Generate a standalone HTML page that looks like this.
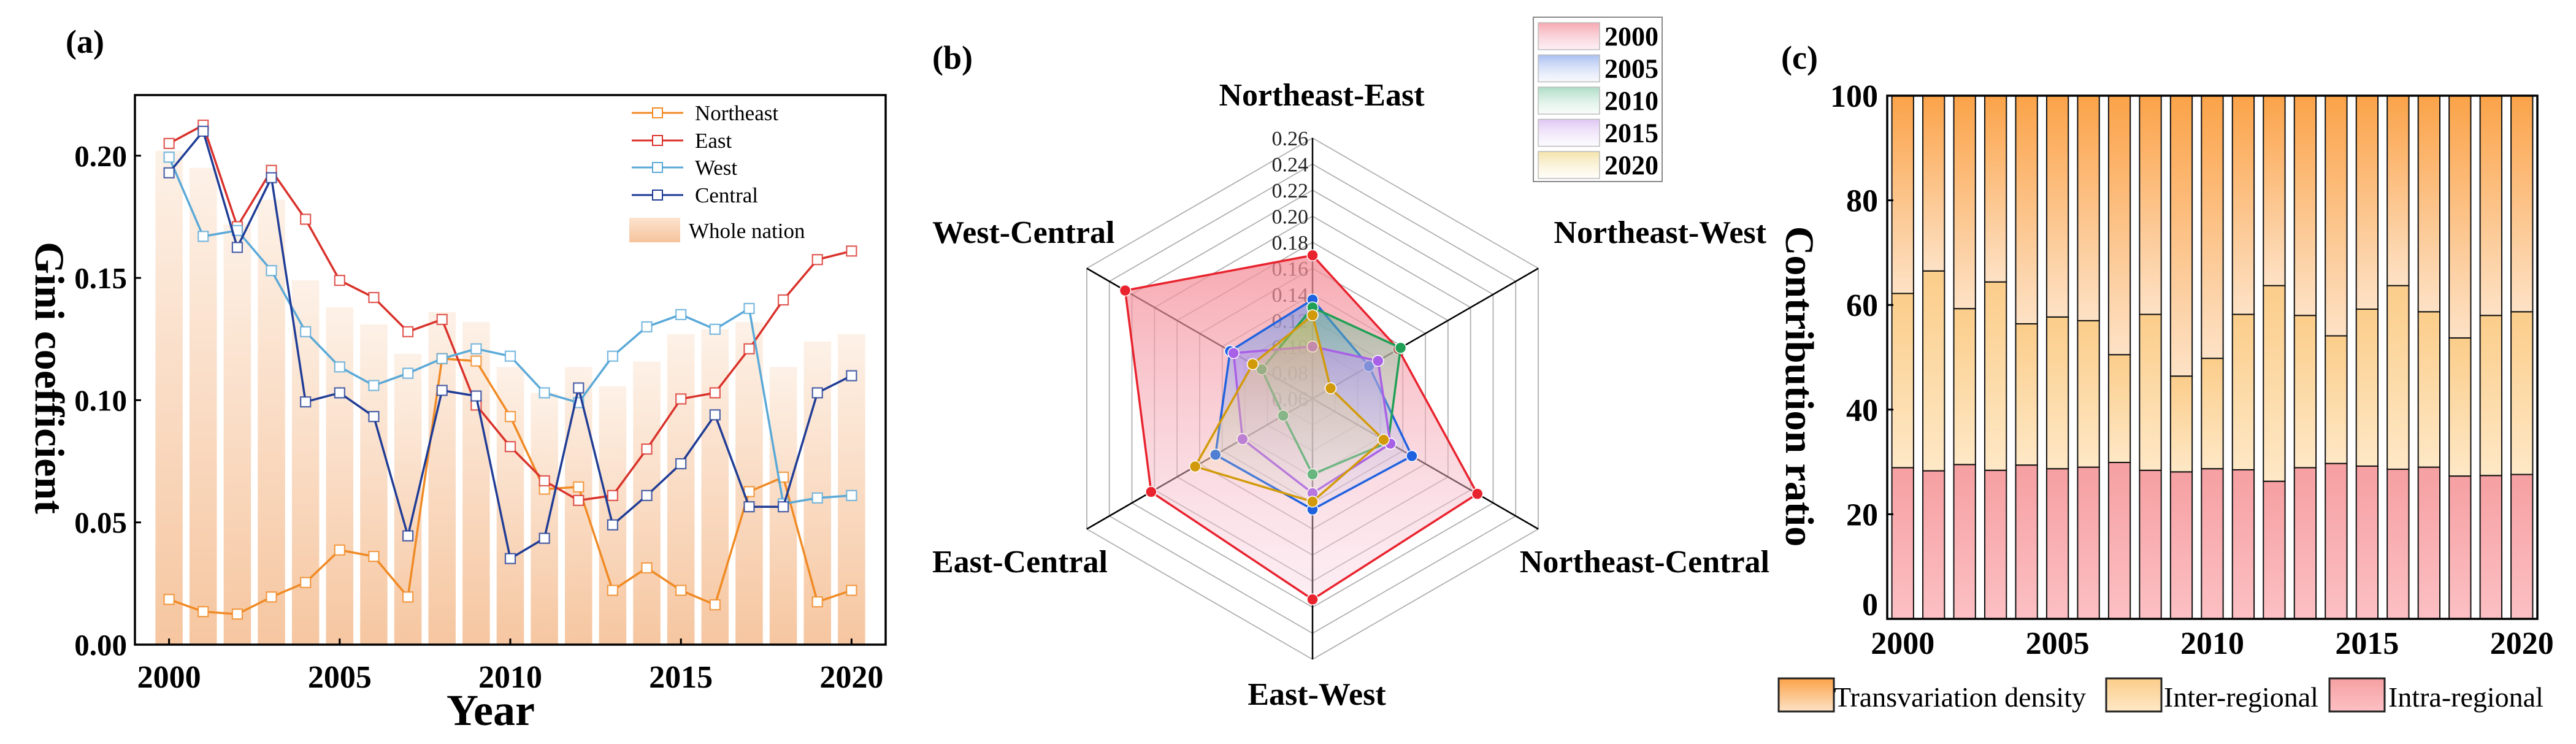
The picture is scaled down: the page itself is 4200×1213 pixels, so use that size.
<!DOCTYPE html>
<html><head><meta charset="utf-8"><style>
html,body{margin:0;padding:0;background:#fff}
svg{display:block}
text{font-family:"Liberation Serif","DejaVu Serif",serif}
</style></head><body>
<svg id="fig" xmlns="http://www.w3.org/2000/svg" width="4200" height="1213" viewBox="0 0 4200 1213">
<defs>
<linearGradient id="gWhole" x1="0" y1="0" x2="0" y2="1"><stop offset="0" stop-color="#fdf1e7"/><stop offset="1" stop-color="#f6c6a0"/></linearGradient>
<linearGradient id="gWholeLeg" x1="0" y1="0" x2="0" y2="1"><stop offset="0" stop-color="#fce3cf"/><stop offset="1" stop-color="#f6c39c"/></linearGradient>
<linearGradient id="gIntra" x1="0" y1="0" x2="0" y2="1"><stop offset="0" stop-color="#f6a0a2"/><stop offset="1" stop-color="#fcc0c4"/></linearGradient>
<linearGradient id="gInter" x1="0" y1="0" x2="0" y2="1"><stop offset="0" stop-color="#fbcd8a"/><stop offset="1" stop-color="#fee8c6"/></linearGradient>
<linearGradient id="gTrans" x1="0" y1="0" x2="0" y2="1"><stop offset="0" stop-color="#fba349"/><stop offset="1" stop-color="#fde2c6"/></linearGradient>
<linearGradient id="r0" x1="0" y1="0" x2="0" y2="1"><stop offset="0" stop-color="#f48c96" stop-opacity="0.75"/><stop offset="1" stop-color="#f7d0e0" stop-opacity="0.35"/></linearGradient>
<linearGradient id="r1" x1="0" y1="0" x2="0" y2="1"><stop offset="0" stop-color="#6f94e8" stop-opacity="0.6"/><stop offset="1" stop-color="#c8d4f4" stop-opacity="0.15"/></linearGradient>
<linearGradient id="r2" x1="0" y1="0" x2="0" y2="1"><stop offset="0" stop-color="#5ab88a" stop-opacity="0.5"/><stop offset="1" stop-color="#d0eedd" stop-opacity="0.15"/></linearGradient>
<linearGradient id="r3" x1="0" y1="0" x2="0" y2="1"><stop offset="0" stop-color="#c08ee8" stop-opacity="0.5"/><stop offset="1" stop-color="#eadcf8" stop-opacity="0.15"/></linearGradient>
<linearGradient id="r4" x1="0" y1="0" x2="0" y2="1"><stop offset="0" stop-color="#e8c040" stop-opacity="0.45"/><stop offset="1" stop-color="#fbefc8" stop-opacity="0.15"/></linearGradient>
</defs>
<g id="pa"></g>
<g id="pb"></g>
<g id="pc"></g>
</svg>
<script>
// ---------- Panel (a) data ----------
const yearsA = [2000,2001,2002,2003,2004,2005,2006,2007,2008,2009,2010,2011,2012,2013,2014,2015,2016,2017,2018,2019,2020];
const northeast = [0.0185,0.0135,0.0125,0.0195,0.0254,0.0387,0.0361,0.0195,0.117,0.116,0.0933,0.0636,0.0645,0.0222,0.0314,0.0222,0.0163,0.0626,0.0685,0.0175,0.0222];
const east = [0.205,0.2125,0.171,0.194,0.174,0.149,0.142,0.128,0.133,0.098,0.081,0.067,0.059,0.061,0.080,0.1005,0.103,0.121,0.141,0.1575,0.161];
const west = [0.1994,0.167,0.1694,0.153,0.128,0.1136,0.106,0.111,0.117,0.121,0.118,0.103,0.099,0.118,0.130,0.135,0.129,0.1375,0.0576,0.060,0.061];
const central = [0.193,0.210,0.1625,0.191,0.0993,0.103,0.0933,0.0445,0.104,0.1017,0.0352,0.0435,0.105,0.049,0.061,0.074,0.094,0.0564,0.0564,0.103,0.110];
const wholeNation = [0.202,0.195,0.172,0.182,0.149,0.138,0.131,0.119,0.136,0.132,0.1136,0.103,0.1136,0.1057,0.1158,0.127,0.129,0.132,0.1136,0.124,0.127];
const yTicksA = [0,0.05,0.10,0.15,0.20];
const yTickLabelsA = ["0.00","0.05","0.10","0.15","0.20"];
const xTicksA = [2000,2005,2010,2015,2020];

// ---------- Panel (b) data ----------
const radarAxes = ["Northeast-East","Northeast-West","Northeast-Central","East-West","East-Central","West-Central"];
const radarYears = ["2000","2005","2010","2015","2020"];
const r2000 = [0.170,0.136,0.206,0.214,0.203,0.226];
const r2005 = [0.136,0.110,0.148,0.145,0.146,0.133];
const r2010 = [0.130,0.138,0.127,0.118,0.086,0.105];
const r2015 = [0.100,0.118,0.129,0.1325,0.122,0.130];
const r2020 = [0.124,0.076,0.123,0.139,0.164,0.113];
const radarTicks = [0.06,0.08,0.10,0.12,0.14,0.16,0.18,0.20,0.22,0.24,0.26];
const radarTickLabels = ["0.06","0.08","0.10","0.12","0.14","0.16","0.18","0.20","0.22","0.24","0.26"];

// ---------- Panel (c) data ----------
const yearsC = [2000,2001,2002,2003,2004,2005,2006,2007,2008,2009,2010,2011,2012,2013,2014,2015,2016,2017,2018,2019,2020];
const intra = [28.9,28.3,29.5,28.4,29.4,28.7,29.0,29.9,28.4,28.1,28.7,28.5,26.3,28.9,29.7,29.2,28.6,29.0,27.3,27.4,27.6];
const inter = [33.3,38.2,29.8,36.0,27.0,29.0,28.0,20.6,29.8,18.3,21.1,29.7,37.4,29.1,24.4,30.0,35.1,29.7,26.4,30.6,31.1];
const trans = [37.8,33.5,40.7,35.6,43.6,42.3,43.0,49.5,41.8,53.6,50.2,41.8,36.3,42.0,45.9,40.8,36.3,41.3,46.3,42.0,41.3];
const yTicksC = [0,20,40,60,80,100];
const xTicksC = [2000,2005,2010,2015,2020];

const NS = "http://www.w3.org/2000/svg";
function mk(parent, tag, attrs, txt){
  const e = document.createElementNS(NS, tag);
  for (const k in attrs) e.setAttribute(k, attrs[k]);
  if (txt !== undefined) e.textContent = txt;
  parent.appendChild(e);
  return e;
}

// ================= Panel A =================
(function(){
  const g = document.getElementById('pa');
  const L=220, R=1444, T=155, B=1051;
  const xMin=1999, xMax=2021, yMin=0, yMax=0.2248;
  const X = v => L + (v-xMin)/(xMax-xMin)*(R-L);
  const Y = v => B - (v-yMin)/(yMax-yMin)*(B-T);
  const t = mk(g,'text',{x:107,y:86,'font-size':54,'font-weight':'bold'},'(a)');
   
  const bw = 0.8*(X(1)-X(0));
  wholeNation.forEach((v,i)=>{
    const r = mk(g,'rect',{x:X(yearsA[i])-bw/2,y:Y(v),width:bw,height:Y(0)-Y(v),fill:'url(#gWhole)'});
     
  });
  const series = [[northeast,'#f08a24','northeast'],[east,'#d9322b','east'],[west,'#5aa9d8','west'],[central,'#1f3c96','central']];
  series.forEach(([arr,col,nm])=>{
    const pts = arr.map((v,i)=>X(yearsA[i])+','+Y(v)).join(' ');
    const pl = mk(g,'polyline',{points:pts,fill:'none',stroke:col,'stroke-width':3.5});
     
    arr.forEach((v,i)=>{
      const m = mk(g,'rect',{x:X(yearsA[i])-8,y:Y(v)-8,width:16,height:16,fill:'#fff',stroke:col,'stroke-width':2.2,'stroke-opacity':0.8});
       
    });
  });
  const fr = mk(g,'rect',{x:L,y:T,width:R-L,height:B-T,fill:'none',stroke:'#000','stroke-width':3.5});
   
  yTicksA.forEach((v,i)=>{
    const tk = mk(g,'line',{x1:L,x2:L+10,y1:Y(v),y2:Y(v),stroke:'#000','stroke-width':3});
     
    const lb = mk(g,'text',{x:207,y:Y(v)+17,'font-size':49,'font-weight':'bold','text-anchor':'end'},yTickLabelsA[i]);
     
  });
  xTicksA.forEach(v=>{
    const tk = mk(g,'line',{x1:X(v),x2:X(v),y1:B,y2:B-10,stroke:'#000','stroke-width':3});
     
    const lb = mk(g,'text',{x:X(v),y:1121,'font-size':52,'font-weight':'bold','text-anchor':'middle'},String(v));
     
  });
  const xt = mk(g,'text',{x:800,y:1182,'font-size':72,'font-weight':'bold','text-anchor':'middle'},'Year');
   
  const yt = mk(g,'text',{x:0,y:0,'font-size':68,'font-weight':'bold','text-anchor':'middle',transform:'translate(58,616) rotate(90)'},'Gini coefficient');
   
  // legend
  const legNames = ['Northeast','East','West','Central'];
  const legY = [184,229,273,318];
  series.forEach(([arr,col,nm],i)=>{
    const lg = mk(g,'g',{});
     
    mk(lg,'line',{x1:1030,x2:1114,y1:legY[i],y2:legY[i],stroke:col,'stroke-width':3});
    mk(lg,'rect',{x:1064,y:legY[i]-8,width:16,height:16,fill:'#fff',stroke:col,'stroke-width':2});
    mk(lg,'text',{x:1133,y:legY[i]+12,'font-size':35},legNames[i]);
  });
  const lw = mk(g,'g',{});
   
  mk(lw,'rect',{x:1026,y:355,width:83,height:40,fill:'url(#gWholeLeg)'});
  mk(lw,'text',{x:1123,y:388,'font-size':35},'Whole nation');
})();

// ================= Panel B =================
(function(){
  const g = document.getElementById('pb');
  const cx=2140, cy=650, Rr=425, rMin=0.06, rMax=0.26;
  const rad = v => (v-rMin)/(rMax-rMin)*Rr;
  const ang = i => (-90 + i*60)*Math.PI/180;
  const P = (i,v) => [cx + rad(v)*Math.cos(ang(i)), cy + rad(v)*Math.sin(ang(i))];
  const t = mk(g,'text',{x:1520,y:112,'font-size':54,'font-weight':'bold'},'(b)');
   
  radarTicks.forEach(v=>{
    if (v<=rMin) return;
    const pts = radarAxes.map((a,i)=>P(i,v).join(',')).join(' ');
    const ring = mk(g,'polygon',{points:pts,fill:'none',stroke:'#b0b0b0','stroke-width':1.8});
     
  });
  radarAxes.forEach((a,i)=>{
    const e = P(i,rMax);
    const ax = mk(g,'line',{x1:cx,y1:cy,x2:e[0],y2:e[1],stroke:'#000','stroke-width':2.5});
     
  });
  radarTicks.forEach((v,i)=>{
    const p = P(0,v);
    const lb = mk(g,'text',{x:cx-7,y:p[1]+12,'font-size':34,'text-anchor':'end',fill:'#222'},radarTickLabels[i]);
     
  });
  const sers = [[r2000,'#e8232e','r0'],[r2005,'#1f62e0','r1'],[r2010,'#1fa055','r2'],[r2015,'#a860e6','r3'],[r2020,'#d29a0a','r4']];
  sers.forEach(([arr,col,gid],si)=>{
    const pts = arr.map((v,i)=>P(i,v).join(',')).join(' ');
    const pg = mk(g,'polygon',{points:pts,fill:'url(#'+gid+')',stroke:col,'stroke-width':3.5,'stroke-linejoin':'round'});
     
    arr.forEach((v,i)=>{
      const p = P(i,v);
      const c = mk(g,'circle',{cx:p[0],cy:p[1],r:9,fill:col,stroke:'#fff','stroke-width':1.5});
       
    });
  });
  const labs = [[2155,172,'middle'],[2880,396,'end'],[2885,933,'end'],[2147,1149,'middle'],[1520,933,'start'],[1520,396,'start']];
  radarAxes.forEach((a,i)=>{
    const lb = mk(g,'text',{x:labs[i][0],y:labs[i][1],'font-size':52,'font-weight':'bold','text-anchor':labs[i][2]},a);
     
  });
  const lb = mk(g,'rect',{x:2500,y:28,width:210,height:268,fill:'#fff',stroke:'#888','stroke-width':2});
   
  radarYears.forEach((yr,i)=>{
    const eg = mk(g,'g',{});
     
    const y0 = 37 + i*52.5;
    mk(eg,'rect',{x:2508,y:y0,width:100,height:44,fill:'url(#'+sers[i][2]+')',stroke:'#bbb','stroke-width':1.5});
    mk(eg,'text',{x:2616,y:y0+37,'font-size':44,'font-weight':'bold'},yr);
  });
})();

// ================= Panel C =================
(function(){
  const g = document.getElementById('pc');
  const L=3077, R=4137, T=156, B=1009;
  const xMin=1999.5, xMax=2020.5;
  const X = v => L + (v-xMin)/(xMax-xMin)*(R-L);
  const Y = v => B - v/100*(B-T);
  const t = mk(g,'text',{x:2904,y:112,'font-size':54,'font-weight':'bold'},'(c)');
   
  const bw = 0.7*(X(1)-X(0));
  yearsC.forEach((yr,i)=>{
    const x = X(yr)-bw/2;
    const a = intra[i], b = inter[i], c = trans[i];
    const r1 = mk(g,'rect',{x:x,y:Y(a),width:bw,height:Y(0)-Y(a),fill:'url(#gIntra)',stroke:'#111','stroke-width':2});
     
    const r2 = mk(g,'rect',{x:x,y:Y(a+b),width:bw,height:Y(a)-Y(a+b),fill:'url(#gInter)',stroke:'#111','stroke-width':2});
     
    const r3 = mk(g,'rect',{x:x,y:Y(a+b+c),width:bw,height:Y(a+b)-Y(a+b+c),fill:'url(#gTrans)',stroke:'#111','stroke-width':2});
     
  });
  const fr = mk(g,'rect',{x:L,y:T,width:R-L,height:B-T,fill:'none',stroke:'#000','stroke-width':3.5});
   
  yTicksC.forEach(v=>{
    const tk = mk(g,'line',{x1:L,x2:L+10,y1:Y(v),y2:Y(v),stroke:'#000','stroke-width':3});
     
    const lb = mk(g,'text',{x:3062,y:Math.min(Y(v)+18,B-6),'font-size':52,'font-weight':'bold','text-anchor':'end'},String(v));
     
  });
  xTicksC.forEach(v=>{
    const lb = mk(g,'text',{x:X(v),y:1066,'font-size':52,'font-weight':'bold','text-anchor':'middle'},String(v));
     
  });
  const yt = mk(g,'text',{x:0,y:0,'font-size':66,'font-weight':'bold','text-anchor':'middle',transform:'translate(2912,630) rotate(90)'},'Contribution ratio');
   
  const leg = [['url(#gTrans)','Transvariation density',2900,2990],['url(#gInter)','Inter-regional',3434,3528],['url(#gIntra)','Intra-regional',3798,3894]];
  leg.forEach(([f,txt,px,tx])=>{
    const eg = mk(g,'g',{});
     
    mk(eg,'rect',{x:px,y:1106,width:90,height:54,fill:f,stroke:'#222','stroke-width':3});
    mk(eg,'text',{x:tx,y:1152,'font-size':46},txt);
  });
})();
</script>
</body></html>
